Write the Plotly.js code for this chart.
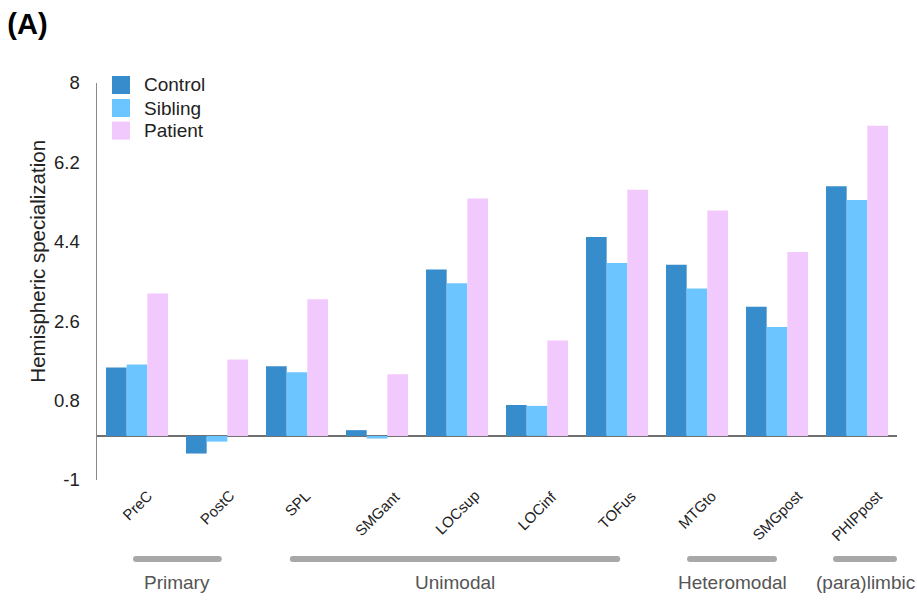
<!DOCTYPE html>
<html>
<head>
<meta charset="utf-8">
<script src="https://cdn.plot.ly/plotly-3.0.1.min.js"></script>
<style>
  html, body { margin: 0; padding: 0; background: #fff; }
  #chart { width: 917px; height: 600px; }
</style>
</head>
<body>
<div id="chart"></div>
<script>
// Brain regions along the x axis
const regions = ['PreC', 'PostC', 'SPL', 'SMGant', 'LOCsup', 'LOCinf', 'TOFus', 'MTGto', 'SMGpost', 'PHIPpost'];

// Hemispheric specialization per group
const control = [1.55, -0.40, 1.58, 0.13, 3.77, 0.70, 4.51, 3.88, 2.93, 5.66];
const sibling = [1.62, -0.13, 1.44, -0.06, 3.46, 0.68, 3.92, 3.34, 2.47, 5.35];
const patient = [3.23, 1.73, 3.10, 1.40, 5.38, 2.16, 5.58, 5.11, 4.17, 7.03];

const seriesNames = ['Control', 'Sibling', 'Patient'];

// y axis ticks
const yTicks = [-1, 0.8, 2.6, 4.4, 6.2, 8];

// Cortical hierarchy groups
const groupNames = ['Primary', 'Unimodal', 'Heteromodal', '(para)limbic'];

// Extent of each group bar along the category axis (category index units)
const groupSpans = [[-0.05, 1.06], [1.91, 6.04], [6.875, 8.0], [8.7, 9.5]];

const colors = ['#378dcc', '#6cc5fe', '#f2c9fd'];
const font = '"Liberation Sans", Arial, sans-serif';

const values = [control, sibling, patient];
const traces = values.map((v, k) => ({
  type: 'bar',
  name: seriesNames[k],
  x: regions,
  y: v,
  marker: { color: colors[k], line: { width: 0 } },
  showlegend: false,
  hoverinfo: 'x+y+name'
}));

const annotations = [];
const shapes = [];

// Rotated region labels, centred under each category
regions.forEach(r => {
  annotations.push({
    xref: 'x', yref: 'paper',
    x: r, y: -0.011,
    xanchor: 'center', yanchor: 'top',
    text: r, textangle: -45, showarrow: false,
    font: { family: font, size: 15, color: '#222' }
  });
});

// Group bars with rounded ends and their labels
const capR = 3;
const capU = capR / 80; // cap radius in category units (80 px per category)
groupNames.forEach((g, i) => {
  const a = groupSpans[i][0] + capU;
  const b = groupSpans[i][1] - capU;
  const gy = -0.199;
  shapes.push({
    type: 'line', xref: 'x', yref: 'paper',
    x0: a, x1: b, y0: gy, y1: gy,
    line: { color: '#a8a8a8', width: 6 }
  });
  [a, b].forEach(xe => {
    shapes.push({
      type: 'circle', xref: 'x', yref: 'paper',
      xsizemode: 'pixel', ysizemode: 'pixel',
      xanchor: xe, yanchor: gy,
      x0: -capR, x1: capR, y0: -capR, y1: capR,
      fillcolor: '#a8a8a8', line: { width: 0 }
    });
  });
  annotations.push({
    xref: 'x', yref: 'paper',
    x: (a + b) / 2, y: -0.259,
    xanchor: 'center', yanchor: 'middle',
    text: g, showarrow: false,
    font: { family: font, size: 19, color: '#555' }
  });
});

// Legend: square swatches with series names
const legendRowsY = [0.995, 0.937, 0.880];
seriesNames.forEach((s, k) => {
  shapes.push({
    type: 'rect', xref: 'paper', yref: 'paper',
    xsizemode: 'pixel', ysizemode: 'pixel',
    xanchor: 0.03, yanchor: legendRowsY[k],
    x0: -9, x1: 9, y0: -9, y1: 9,
    fillcolor: colors[k], line: { width: 0 }
  });
  annotations.push({
    xref: 'paper', yref: 'paper',
    x: 0.056, y: legendRowsY[k],
    xanchor: 'left', yanchor: 'middle',
    text: s, showarrow: false,
    font: { family: font, size: 19, color: '#222' }
  });
});

// Vertical axis title
annotations.push({
  xref: 'paper', yref: 'paper',
  x: -0.074, y: 0.552,
  xanchor: 'center', yanchor: 'middle',
  text: 'Hemispheric specialization', textangle: -90, showarrow: false,
  font: { family: font, size: 20.5, color: '#222' }
});

const layout = {
  width: 917, height: 600,
  margin: { l: 97, r: 20, t: 83, b: 120 },
  paper_bgcolor: '#fff', plot_bgcolor: '#fff',
  font: { family: font, color: '#333' },
  showlegend: false,
  title: {
    text: '<b>(A)</b>', x: 0.008, xanchor: 'left', xref: 'container',
    y: 0.96, yanchor: 'middle', yref: 'container',
    font: { family: font, size: 29, color: '#000' }
  },
  bargap: 0.225, bargroupgap: 0,
  barmode: 'group',
  xaxis: {
    type: 'category',
    range: [-0.5, 9.5],
    showticklabels: false, ticks: '', showline: false, showgrid: false, zeroline: false
  },
  yaxis: {
    range: [-1, 8],
    tickvals: yTicks, ticktext: yTicks.map(String),
    showgrid: false,
    showline: true, linecolor: '#8a8a8a', linewidth: 1.5,
    zeroline: true, zerolinecolor: '#707070', zerolinewidth: 1.5,
    ticks: 'outside', ticklen: 12, tickcolor: 'rgba(0,0,0,0)',
    tickfont: { family: font, size: 18.5, color: '#222' }
  },
  shapes: shapes,
  annotations: annotations
};

Plotly.newPlot('chart', traces, layout, { displayModeBar: false, staticPlot: true });
</script>
</body>
</html>
